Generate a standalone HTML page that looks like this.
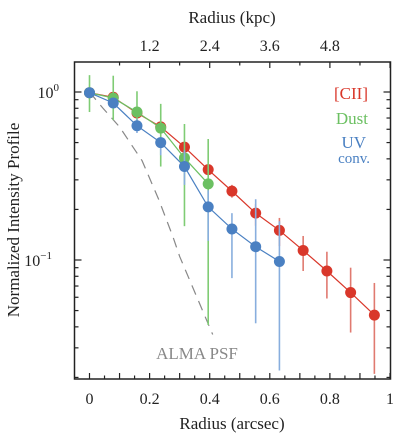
<!DOCTYPE html>
<html><head><meta charset="utf-8"><style>
html,body{margin:0;padding:0;background:#fff;width:415px;height:442px;overflow:hidden}
text{font-family:"Liberation Serif",serif}
</style></head><body>
<svg id="c" width="415" height="442" xmlns="http://www.w3.org/2000/svg"></svg>
<script>
const radius=[0,0.079,0.158,0.237,0.316,0.395,0.474,0.553,0.632,0.711,0.79,0.869,0.948];
const ciiVals=[0.99,0.93,0.75,0.62,0.47,0.345,0.257,0.19,0.15,0.114,0.086,0.064,0.047];
const ciiLo=[0.97,0.9,0.72,0.59,0.44,0.32,0.235,0.16,0.121,0.086,0.059,0.037,0.021];
const ciiHi=[1.01,0.96,0.78,0.65,0.5,0.37,0.28,0.215,0.178,0.139,0.112,0.09,0.073];
const dustVals=[0.99,0.92,0.76,0.61,0.405,0.284];
const dustLo=[0.76,0.68,0.636,0.36,0.159,0.041];
const dustHi=[1.26,1.25,1.01,0.85,0.645,0.525];
const uvVals=[0.99,0.86,0.63,0.5,0.36,0.207,0.153,0.12,0.098];
const uvLo=[0.97,0.8,0.57,0.42,0.28,0.13,0.078,0.042,0.022];
const uvHi=[1.01,0.92,0.69,0.54,0.45,0.26,0.19,0.23,0.17];
const psfX=[0,0.045,0.1,0.175,0.23,0.278,0.3,0.41];
const psfY=[1,0.8,0.62,0.39,0.23,0.137,0.105,0.036];
const xTicks=[0,0.2,0.4,0.6,0.8,1];
const kpcTicks=[1.2,2.4,3.6,4.8];
const kpcPerArcsec=6;

const L=74.5,R=390.5,T=62,B=379;
const X=v=>89.5+v*300.5;
const Y=v=>92-Math.log10(v)*168;
const svg=document.getElementById('c');
const NS='http://www.w3.org/2000/svg';
function mk(tag,at,par){const e=document.createElementNS(NS,tag);for(const k in at)e.setAttribute(k,at[k]);(par||svg).appendChild(e);return e;}

const tk=mk('g',{stroke:'#222','stroke-width':1.2});


for(let i=0;i<=20;i++){const v=i*0.05;if(v>1.001)break;const x=X(v);const len=(i%2==0)?6:3.5;
 mk('line',{x1:x,x2:x,y1:B,y2:B-len},tk);}
for(let k=0.6;k<=6.01;k+=0.6){const x=X(k/kpcPerArcsec);if(x>R)break;const len=(Math.round(k/0.6)%2==0)?6:3.5;mk('line',{x1:x,x2:x,y1:T,y2:T+len},tk);}
[0.01,0.1,1].forEach(a=>{for(let m=1;m<10;m++){const v=a*m;const y=Y(v);if(y<T||y>B)continue;const len=m==1?7:4;
 mk('line',{x1:L,x2:L+len,y1:y,y2:y},tk);mk('line',{x1:R,x2:R-len,y1:y,y2:y},tk);}});

const psf=mk('polyline',{points:psfX.map((x,i)=>X(x)+','+Y(psfY[i])).join(' '),fill:'none',stroke:'#888','stroke-width':1.2,'stroke-dasharray':'10,7'});



function series(name,vals,lo,hi,col,ecol){
 const g=mk('g',{});
 
 
 vals.forEach((v,i)=>{const e=mk('line',{x1:X(radius[i]),x2:X(radius[i]),y1:Y(lo[i]),y2:Y(hi[i]),stroke:ecol,'stroke-width':1.6},g);
  
  });
 mk('polyline',{points:vals.map((v,i)=>X(radius[i])+','+Y(v)).join(' '),fill:'none',stroke:col,'stroke-width':1.2},g);
 vals.forEach((v,i)=>{const c=mk('circle',{cx:X(radius[i]),cy:Y(v),r:5.5,fill:col},g);
  
  });
}
series('cii',ciiVals,ciiLo,ciiHi,'#d9372a','#e07a70');
series('dust',dustVals,dustLo,dustHi,'#6cc062','#7fcc74');
series('uv',uvVals,uvLo,uvHi,'#4a80c2','#88aede');

const fr=mk('rect',{x:L,y:T,width:R-L,height:B-T,fill:'none',stroke:'#222','stroke-width':1.5});



function txt(s,x,y,at,name){const t=mk('text',Object.assign({x:x,y:y,'font-size':16,fill:'#222','text-anchor':'middle'},at||{}));t.textContent=s;
 
 return t;}
xTicks.forEach(v=>txt(String(v),X(v),404,{},'x-tick-label'));
kpcTicks.forEach(v=>txt(v.toFixed(1),X(v/kpcPerArcsec),51,{},'top-tick-label'));
const t1=txt('10','59',98,{'text-anchor':'end'},'y-tick-label');
const s1=mk('tspan',{'font-size':11,dy:-7},t1);s1.textContent='0';
const t2=txt('10','52',266,{'text-anchor':'end'},'y-tick-label');
const s2=mk('tspan',{'font-size':11,dy:-7},t2);s2.textContent='−1';
txt('Radius (arcsec)',232,429,{'font-size':17},'x-axis-title');
txt('Radius (kpc)',232,23,{'font-size':17},'top-axis-title');
txt('Normalized Intensity Profile',19,220,{transform:'rotate(-90 19 220)','font-size':17},'y-axis-title');
txt('[CII]',368,99,{'text-anchor':'end',fill:'#d9372a',"font-size":17},'legend-cii');
txt('Dust',368,124,{'text-anchor':'end',fill:'#6cc062',"font-size":17},'legend-dust');
txt('UV',366,148,{'text-anchor':'end',fill:'#4a80c2',"font-size":17},'legend-uv');
txt('conv.',370,163,{'text-anchor':'end',fill:'#4a80c2',"font-size":15},'legend-uv-conv');
txt('ALMA PSF',197,359,{fill:'#888',"font-size":17},'psf-label');
</script>
</body></html>
